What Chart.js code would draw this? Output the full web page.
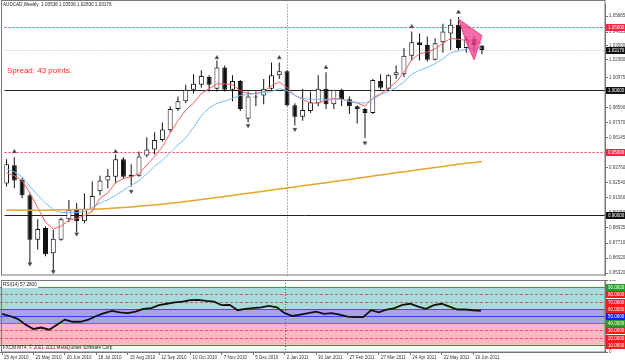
<!DOCTYPE html>
<html>
<head>
<meta charset="utf-8">
<script src="https://cdn.jsdelivr.net/npm/chart.js@4.4.0/dist/chart.umd.min.js"></script>
<style>
html, body { margin: 0; padding: 0; background: #fff; }
#wrap { position: relative; width: 625px; height: 361px; overflow: hidden; background: #fff; }
#main { position: absolute; left: 0; top: 0; }
#rsi { position: absolute; left: 0; top: 280px; }
</style>
</head>
<body>
<div id="wrap">
  <canvas id="main" width="625" height="280"></canvas>
  <canvas id="rsi" width="625" height="81"></canvas>
</div>
<script>
// AUDCAD weekly, 25 Apr 2010 .. 26 Jun 2011 (bar index 0..61)
const dateTicks = ["25 Apr 2010", "23 May 2010", "20 Jun 2010", "18 Jul 2010", "15 Aug 2010",
  "12 Sep 2010", "10 Oct 2010", "7 Nov 2010", "5 Dec 2010", "2 Jan 2011", "30 Jan 2011",
  "27 Feb 2011", "27 Mar 2011", "24 Apr 2011", "22 May 2011", "19 Jun 2011"];

const opens = [0.9248, 0.9395, 0.9279, 0.9155, 0.8799, 0.8892, 0.8690, 0.8799, 0.8962, 0.9039,
  0.8946, 0.9039, 0.9186, 0.9272, 0.9303, 0.9442, 0.9303, 0.9310, 0.9473, 0.9520,
  0.9597, 0.9675, 0.9845, 0.9907, 1.0000, 1.0039, 1.0101, 1.0008, 1.0178, 1.0000,
  1.0070, 0.9768, 0.9938, 0.9954, 1.0008, 1.0116, 1.0147, 0.9876, 0.9783, 0.9830,
  0.9892, 1.0008, 0.9884, 1.0000, 0.9923, 0.9868, 0.9845, 0.9814, 1.0070, 1.0008,
  1.0116, 1.0124, 1.0271, 1.0380, 1.0357, 1.0240, 1.0380, 1.0450, 1.0519, 1.0333,
  1.0403, 1.03536];
const highs = [0.9442, 0.9458, 0.9295, 0.9171, 0.8962, 0.8907, 0.8876, 0.8977, 0.9117, 0.9093,
  0.9171, 0.9264, 0.9310, 0.9365, 0.9481, 0.9458, 0.9403, 0.9504, 0.9620, 0.9659,
  0.9737, 0.9868, 0.9946, 1.0039, 1.0124, 1.0155, 1.0116, 1.0233, 1.0194, 1.0116,
  1.0078, 0.9985, 0.9985, 1.0085, 1.0217, 1.0217, 1.0155, 0.9892, 1.0008, 0.9985,
  1.0116, 1.0140, 1.0000, 1.0008, 0.9946, 0.9876, 0.9853, 1.0085, 1.0124, 1.0124,
  1.0194, 1.0333, 1.0465, 1.0450, 1.0426, 1.0411, 1.0527, 1.0566, 1.0581, 1.0426,
  1.0426, 1.03536];
const lows = [0.9225, 0.9210, 0.9132, 0.8613, 0.8721, 0.8667, 0.8551, 0.8791, 0.8938, 0.8861,
  0.8931, 0.9031, 0.9155, 0.9210, 0.9248, 0.9287, 0.9225, 0.9303, 0.9458, 0.9481,
  0.9582, 0.9659, 0.9830, 0.9892, 0.9969, 1.0016, 0.9985, 0.9985, 0.9985, 0.9907,
  0.9830, 0.9737, 0.9868, 0.9884, 1.0000, 1.0085, 0.9868, 0.9713, 0.9752, 0.9814,
  0.9868, 0.9845, 0.9845, 0.9868, 0.9806, 0.9729, 0.9613, 0.9806, 1.0000, 1.0000,
  1.0085, 1.0101, 1.0233, 1.0233, 1.0225, 1.0233, 1.0295, 1.0318, 1.0318, 1.0295,
  1.0302, 1.02830];
const closes = [0.9403, 0.9272, 0.9155, 0.8799, 0.8884, 0.8683, 0.8807, 0.8962, 0.9039, 0.8946,
  0.9047, 0.9148, 0.9272, 0.9310, 0.9442, 0.9303, 0.9318, 0.9465, 0.9520, 0.9597,
  0.9682, 0.9845, 0.9907, 1.0000, 1.0047, 1.0109, 1.0039, 1.0178, 1.0000, 1.0070,
  0.9845, 0.9946, 0.9946, 1.0008, 1.0116, 1.0147, 0.9876, 0.9783, 0.9837, 0.9899,
  1.0008, 0.9884, 1.0000, 0.9923, 0.9868, 0.9845, 0.9814, 1.0078, 1.0016, 1.0116,
  1.0140, 1.0271, 1.0380, 1.0357, 1.0240, 1.0372, 1.0465, 1.0519, 1.0333, 1.0403,
  1.0357, 1.03176];

const fastMA = [0.9334, 0.9310, 0.9272, 0.9171, 0.9055, 0.8938, 0.8884, 0.8907, 0.8954, 0.8969,
  0.8993, 0.9024, 0.9132, 0.9171, 0.9256, 0.9287, 0.9303, 0.9326, 0.9396, 0.9465,
  0.9543, 0.9651, 0.9752, 0.9837, 0.9892, 0.9969, 1.0008, 1.0047, 1.0047, 1.0039,
  0.9992, 0.9969, 0.9969, 0.9985, 1.0031, 1.0062, 1.0016, 0.9954, 0.9923, 0.9892,
  0.9892, 0.9915, 0.9930, 0.9923, 0.9907, 0.9892, 0.9868, 0.9930, 0.9969, 1.0008,
  1.0062, 1.0140, 1.0240, 1.0287, 1.0302, 1.0326, 1.0372, 1.0411, 1.0403, 1.0395,
  1.0388, 1.0372];
const slowMA = [0.9365, 0.9341, 0.9303, 0.9225, 0.9155, 0.9093, 0.9039, 0.9016, 0.9016, 0.9016,
  0.9024, 0.9055, 0.9093, 0.9117, 0.9155, 0.9194, 0.9233, 0.9272, 0.9326, 0.9388,
  0.9434, 0.9496, 0.9558, 0.9613, 0.9698, 0.9791, 0.9853, 0.9892, 0.9907, 0.9930,
  0.9954, 0.9961, 0.9969, 0.9977, 0.9985, 1.0008, 0.9992, 0.9954, 0.9930, 0.9923,
  0.9923, 0.9923, 0.9923, 0.9923, 0.9907, 0.9899, 0.9892, 0.9923, 0.9961, 0.9985,
  1.0016, 1.0062, 1.0124, 1.0155, 1.0178, 1.0209, 1.0248, 1.0295, 1.0310, 1.0326,
  1.0333, 1.0333];
const longMA = [0.9037, 0.9036, 0.9035, 0.9035, 0.9035, 0.9035, 0.9037, 0.9038, 0.9039, 0.9040,
  0.9041, 0.9043, 0.9045, 0.9048, 0.9052, 0.9056, 0.9061, 0.9066, 0.9072, 0.9077,
  0.9083, 0.9090, 0.9097, 0.9105, 0.9113, 0.9120, 0.9128, 0.9136, 0.9144, 0.9153,
  0.9162, 0.9170, 0.9179, 0.9187, 0.9196, 0.9204, 0.9213, 0.9221, 0.9230, 0.9238,
  0.9247, 0.9255, 0.9264, 0.9272, 0.9281, 0.9290, 0.9299, 0.9308, 0.9317, 0.9325,
  0.9334, 0.9343, 0.9351, 0.9360, 0.9368, 0.9377, 0.9385, 0.9394, 0.9402, 0.9410,
  0.9417, 0.9425];

const rsiValues = [53, 50, 46, 38, 32, 34, 31, 38, 45, 42,
  42, 45, 50, 54, 57, 55, 54, 56, 60, 61,
  65, 67, 69, 70, 72, 72.5, 71, 70, 65, 65.5,
  58, 60, 61, 62, 64, 62, 54, 50, 52, 54,
  56, 53, 54, 52, 49, 48.5, 48.5, 58, 55, 59,
  61, 65.5, 67, 63, 60, 65, 67, 63, 59, 59,
  58, 57.28];

const fractalUpBars = [1, 14, 27, 35, 41, 52, 58];
const fractalUpPrices = [0.9504, 0.9504, 1.0256, 1.0256, 1.0178, 1.0504, 1.0620];
const fractalDownBars = [3, 6, 9, 16, 31, 37, 46];
const fractalDownPrices = [0.8605, 0.8543, 0.8845, 0.9186, 0.9713, 0.9682, 0.9574];

const patternBars = [58, 61, 60, 59, 58];
const patternPrices = [1.0566, 1.0434, 1.0240, 1.0380, 1.0566];

const priceTicks = [1.05885, 1.04615, 1.03500, 1.02380, 1.00975, 0.99780, 0.98590, 0.97370,
  0.96145, 0.94945, 0.93760, 0.92540, 0.91360, 0.90150, 0.88935, 0.87710, 0.86520, 0.85320];
const priceLevels = [1.05, 1.00, 0.95, 0.90];
const rsiLevels = [90, 80, 70, 60, 50, 40, 30, 20, 10];
const separatorBar = 36;

// styles
const levelStyle = [
  { color: '#ff3355', dash: [2, 2], box: '#ff2244' },
  { color: '#222222', dash: [], box: '#111111' },
  { color: '#ff3355', dash: [2, 2], box: '#ff2244' },
  { color: '#222222', dash: [], box: '#111111' }
];
const rsiStyle = [
  { color: '#33aa33', dash: [], box: '#22a022' },
  { color: '#b07060', dash: [3, 2], box: '#ff1a1a' },
  { color: '#b07060', dash: [3, 2], box: '#ff1a1a' },
  { color: '#dd2222', dash: [], box: '#ff1a1a' },
  { color: '#3344ff', dash: [], box: '#1a1aff' },
  { color: '#33aa33', dash: [], box: '#22a022' },
  { color: '#ee5566', dash: [3, 2], box: '#ff1a1a' },
  { color: '#ee5566', dash: [3, 2], box: '#ff1a1a' },
  { color: '#ee3333', dash: [], box: '#ff1a1a' }
];
const rsiBands = [
  { from: 60, to: 90, color: '#a9dadb' },
  { from: 40, to: 60, color: '#a8a4e2' },
  { from: 10, to: 40, color: '#fdb7c0' }
];

const xMin = -0.26, xMax = 76.8;
const FONT = 'Liberation Sans';
Chart.defaults.font.family = FONT;
Chart.defaults.animation = false;

const pts = (vals) => vals.map((v, i) => ({ x: i, y: v }));

function axisBox(ctx, y, color, text) {
  ctx.fillStyle = color;
  ctx.fillRect(606, Math.round(y) - 3, 19, 7);
  ctx.fillStyle = '#ffffff';
  ctx.font = '4.5px ' + FONT;
  ctx.textAlign = 'left';
  ctx.textBaseline = 'middle';
  ctx.fillText(text, 608, Math.round(y) + 0.5);
}

function vSeparator(chart) {
  const { ctx, chartArea: a, scales: { x } } = chart;
  const vx = Math.round(x.getPixelForValue(separatorBar)) + 0.5;
  ctx.save();
  ctx.strokeStyle = '#666';
  ctx.lineWidth = 1;
  ctx.setLineDash([1, 2]);
  ctx.beginPath();
  ctx.moveTo(vx, a.top);
  ctx.lineTo(vx, a.bottom);
  ctx.stroke();
  ctx.restore();
}

const mainOverlay = {
  id: 'mainOverlay',
  beforeDatasetsDraw(chart) {
    const { ctx, chartArea: a, scales: { y } } = chart;
    vSeparator(chart);
    ctx.save();
    ctx.lineWidth = 1;
    // current price line
    const cy = Math.round(y.getPixelForValue(closes[closes.length - 1])) + 0.5;
    ctx.strokeStyle = '#e6cfc6';
    ctx.setLineDash([2, 1]);
    ctx.beginPath(); ctx.moveTo(a.left, cy); ctx.lineTo(a.right, cy); ctx.stroke();
    priceLevels.forEach((v, k) => {
      const py = Math.round(y.getPixelForValue(v)) + 0.5;
      ctx.strokeStyle = levelStyle[k].color;
      ctx.setLineDash(levelStyle[k].dash);
      ctx.beginPath(); ctx.moveTo(a.left, py); ctx.lineTo(a.right, py); ctx.stroke();
    });
    ctx.restore();
  },
  afterDraw(chart) {
    const { ctx, chartArea: a, scales: { y } } = chart;
    ctx.save();
    ctx.strokeStyle = '#777';
    ctx.lineWidth = 1;
    ctx.setLineDash([]);
    ctx.strokeRect(1.5, 0.5, a.right - 1.5, a.bottom - 1);
    priceLevels.forEach((v, k) => axisBox(ctx, y.getPixelForValue(v), levelStyle[k].box, v.toFixed(5)));
    const last = closes[closes.length - 1];
    axisBox(ctx, y.getPixelForValue(last), '#111111', last.toFixed(5));
    ctx.fillStyle = '#222';
    ctx.font = '4.6px ' + FONT;
    ctx.textAlign = 'left';
    ctx.textBaseline = 'middle';
    ctx.fillText('AUDCAD,Weekly  1.03536 1.03536 1.02830 1.03176', 3, 5);
    ctx.fillStyle = '#ff2a2a';
    ctx.font = '8px ' + FONT;
    ctx.fillText('Spread: 43 points.', 7, 71);
    ctx.restore();
  }
};

const rsiOverlay = {
  id: 'rsiOverlay',
  beforeDatasetsDraw(chart) {
    const { ctx, chartArea: a, scales: { y } } = chart;
    ctx.save();
    rsiBands.forEach(b => {
      const y1 = y.getPixelForValue(b.to), y2 = y.getPixelForValue(b.from);
      ctx.fillStyle = b.color;
      ctx.fillRect(a.left, y1, a.right - a.left, y2 - y1);
    });
    ctx.lineWidth = 1;
    rsiLevels.forEach((v, k) => {
      const py = Math.round(y.getPixelForValue(v)) + 0.5;
      ctx.strokeStyle = rsiStyle[k].color;
      ctx.setLineDash(rsiStyle[k].dash);
      ctx.beginPath(); ctx.moveTo(a.left, py); ctx.lineTo(a.right, py); ctx.stroke();
    });
    ctx.restore();
    vSeparator(chart);
  },
  afterDraw(chart) {
    const { ctx, chartArea: a, scales: { y } } = chart;
    ctx.save();
    ctx.strokeStyle = '#777';
    ctx.lineWidth = 1;
    ctx.strokeRect(1.5, 0.5, a.right - 1.5, a.bottom - 0.5);
    rsiLevels.forEach((v, k) => axisBox(ctx, y.getPixelForValue(v), rsiStyle[k].box, v.toFixed(4)));
    ctx.font = '4.6px ' + FONT;
    ctx.textAlign = 'left';
    ctx.textBaseline = 'middle';
    ctx.fillStyle = '#fff';
    ctx.fillRect(2, 2, 36, 6);
    ctx.fillStyle = '#222';
    ctx.fillText('RSI(14) ' + rsiValues[rsiValues.length - 1].toFixed(4), 3, 5);
    ctx.fillText('FXCM MT4, \u00a9 2001-2011 MetaQuotes Software Corp.', 3, 68);
    ctx.restore();
  }
};

const flatPad = (s) => { s.paddingTop = 0; s.paddingBottom = 0; s.paddingLeft = 0; s.paddingRight = 0; };

new Chart(document.getElementById('main'), {
  type: 'bar',
  data: {
    datasets: [
      {
        type: 'line', label: 'pattern', order: 1,
        data: patternBars.map((b, k) => ({ x: b, y: patternPrices[k] })),
        borderColor: '#f0408a', borderWidth: 1, backgroundColor: 'rgba(240,60,140,0.75)',
        fill: 'shape', pointRadius: 0, tension: 0
      },
      {
        type: 'scatter', label: 'fractal up', order: 0,
        data: fractalUpBars.map((b, k) => ({ x: b, y: fractalUpPrices[k] })),
        pointStyle: 'triangle', pointRadius: 2.2, backgroundColor: '#444', borderColor: '#444', borderWidth: 0.5
      },
      {
        type: 'scatter', label: 'fractal down', order: 0,
        data: fractalDownBars.map((b, k) => ({ x: b, y: fractalDownPrices[k] })),
        pointStyle: 'triangle', rotation: 180, pointRadius: 2.2, backgroundColor: '#444', borderColor: '#444', borderWidth: 0.5
      },
      {
        type: 'line', label: 'MA long', order: 2, data: pts(longMA),
        borderColor: '#e3a52a', borderWidth: 1.5, pointRadius: 0, tension: 0
      },
      {
        type: 'line', label: 'MA slow', order: 2, data: pts(slowMA),
        borderColor: '#7bbbef', borderWidth: 1, pointRadius: 0, tension: 0
      },
      {
        type: 'line', label: 'MA fast', order: 2, data: pts(fastMA),
        borderColor: '#f26060', borderWidth: 1, pointRadius: 0, tension: 0
      },
      {
        label: 'bodies', order: 5, grouped: false, maxBarThickness: 5,
        data: opens.map((o, i) => ({ x: i, y: [o, closes[i]] })),
        backgroundColor: (c) => closes[c.dataIndex] > opens[c.dataIndex] ? '#ffffff' : '#111111',
        borderColor: '#111111', borderWidth: 1, borderSkipped: false
      },
      {
        label: 'wicks', order: 6, grouped: false, maxBarThickness: 1,
        data: lows.map((l, i) => ({ x: i, y: [l, highs[i]] })),
        backgroundColor: '#111111', borderWidth: 0
      }
    ]
  },
  options: {
    responsive: false,
    animation: false,
    layout: { padding: 0 },
    plugins: { legend: { display: false }, tooltip: { enabled: false } },
    scales: {
      x: { type: 'linear', min: xMin, max: xMax, offset: false, display: false },
      y: {
        position: 'right', min: 0.8512, max: 1.0682,
        afterBuildTicks: (s) => { s.ticks = priceTicks.map(v => ({ value: v })); },
        afterFit: (s) => { s.width = 20; flatPad(s); },
        grid: { drawOnChartArea: false, tickLength: 3, color: '#777' },
        border: { display: true, color: '#777' },
        ticks: { padding: 1, color: '#444', font: { size: 4.5 }, callback: (v) => Number(v).toFixed(5) }
      }
    }
  },
  plugins: [mainOverlay]
});

new Chart(document.getElementById('rsi'), {
  type: 'line',
  data: {
    datasets: [{
      label: 'RSI(14)', data: pts(rsiValues),
      borderColor: '#111111', borderWidth: 1.8, pointRadius: 0, tension: 0
    }]
  },
  options: {
    responsive: false,
    animation: false,
    layout: { padding: 0 },
    plugins: { legend: { display: false }, tooltip: { enabled: false } },
    scales: {
      x: {
        type: 'linear', min: xMin, max: xMax, offset: false,
        afterBuildTicks: (s) => { s.ticks = dateTicks.map((t, k) => ({ value: k * 4 })); },
        afterFit: (s) => { s.height = 9; flatPad(s); },
        grid: { drawOnChartArea: false, tickLength: 3, color: '#777' },
        border: { display: true, color: '#777' },
        ticks: {
          autoSkip: false, maxRotation: 0, align: 'start', labelOffset: 2, padding: 0,
          color: '#333', font: { size: 4.5 },
          callback: (v) => dateTicks[Math.round(v / 4)]
        }
      },
      y: {
        position: 'right', min: 0, max: 100,
        afterBuildTicks: (s) => { s.ticks = [{ value: 0 }, { value: 100 }]; },
        afterFit: (s) => { s.width = 20; flatPad(s); },
        grid: { drawOnChartArea: false, tickLength: 3, color: '#777' },
        border: { display: true, color: '#777' },
        ticks: { padding: 1, color: '#444', font: { size: 4.5 } }
      }
    }
  },
  plugins: [rsiOverlay]
});
</script>
</body>
</html>
